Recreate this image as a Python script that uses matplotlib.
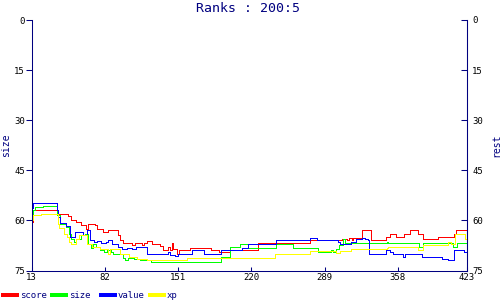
import matplotlib
matplotlib.use("Agg")
import matplotlib.pyplot as plt
from matplotlib.lines import Line2D

# series as step breakpoints (x, value)
score_x = [13, 14, 38, 47, 50, 55, 59, 64, 66, 73, 75, 77, 80, 85, 94, 96, 99, 108, 110, 117, 119, 122,
           126, 134, 137, 141, 143, 145, 146, 150, 152, 162, 182, 190, 200, 226, 275, 301, 305, 310, 312,
           315, 316, 324, 333, 347, 351, 356, 364, 370, 377, 382, 396, 411, 413, 423]
score_y = [60.5, 57, 58, 58.8, 60, 60.5, 61.5, 62.5, 61, 61.5, 62.5, 62.7, 63.5, 63, 64.5, 66, 66.8, 67.5,
           66.8, 67.5, 66.8, 66.2, 67, 67.8, 69, 68, 69, 66.8, 68.5, 70, 69, 68.2, 69, 69.5, 69, 66.8, 66,
           66, 65.7, 66, 65.3, 66, 65.3, 63, 66, 65, 64, 65, 64, 63, 64, 65.5, 65, 64, 63, 63]

size_x = [13, 14, 16, 24, 37, 40, 45, 48, 50, 53, 55, 59, 63, 66, 69, 71, 74, 77, 81, 84, 88, 90, 99, 101,
          104, 109, 115, 125, 191, 200, 209, 217, 243, 259, 283, 295, 297, 300, 303, 306, 308, 348, 349,
          378, 382, 408, 410, 414, 423]
size_y = [59, 57, 56, 55.7, 58.5, 61, 62, 64, 65.5, 66.5, 65.5, 64.5, 64, 67, 68.4, 67, 68, 68.8, 69.5,
          68.8, 69.5, 70, 71.2, 72, 71.2, 71.5, 72, 72.5, 71, 68, 67, 68.2, 67, 68.2, 69.5, 68.8, 69.5,
          68.5, 67.5, 65.5, 66.8, 66.4, 66.8, 68, 66.8, 66.8, 68, 66.8, 66.8]

value_x = [13, 14, 37, 38, 40, 45, 49, 54, 61, 65, 68, 72, 75, 78, 83, 85, 89, 94, 98, 103, 108, 111, 122,
           141, 143, 148, 151, 164, 175, 191, 211, 217, 243, 275, 282, 300, 302, 304, 314, 319, 324, 327,
           330, 331, 347, 351, 354, 363, 365, 381, 400, 405, 411, 420, 423]
value_y = [56.3, 54.7, 57, 59, 60.8, 61.7, 65, 63.5, 64.5, 63, 66, 66.5, 66.2, 66.8, 66.5, 66, 67, 68,
           68.5, 68.3, 68.5, 68, 70, 69.5, 70.5, 70.8, 70, 69, 70, 69, 68.2, 67, 66, 65.2, 66, 66, 66.5,
           67, 66.5, 65.5, 65.2, 65.5, 66, 70, 69, 69.5, 70, 71, 70, 71, 71.5, 72, 69, 69.5, 69.5]

xp_x = [13, 14, 22, 38, 39, 43, 46, 48, 50, 55, 58, 65, 70, 77, 85, 87, 96, 98, 105, 112, 122, 159, 242,
        275, 300, 304, 314, 348, 349, 377, 382, 405, 408, 412, 421, 423]
xp_y = [60, 58.5, 58, 61, 62.4, 64, 65, 66.5, 67, 65.5, 64.5, 67, 68, 68.7, 70, 68.7, 70, 70.2, 71, 71.5,
        72, 71.2, 70, 69.2, 69.8, 69.2, 68.5, 68.2, 68, 68.8, 67.5, 66.5, 67, 64, 65.5, 66]

names = ["score", "size", "value", "xp"]
colors = ["#ff0000", "#00ff00", "#0000ff", "#ffff00"]
xticks = [13, 82, 151, 220, 289, 358, 423]
yticks = [0, 15, 30, 45, 60, 75]

navy = "#000080"
mono = "DejaVu Sans Mono"

fig = plt.figure(figsize=(5, 3), dpi=100)
ax = fig.add_axes([31.7 / 500, 1 - 270.5 / 300, 435 / 500, 250.5 / 300])

series = [(score_x, score_y), (size_x, size_y), (value_x, value_y), (xp_x, xp_y)]
for (xs, ys), c in zip(series, colors):
    ax.plot(xs, ys, drawstyle="steps-post", color=c, lw=0.72, antialiased=False)

ax.set_xlim(13, 423)
ax.set_ylim(75, 0)
ax.set_xticks(xticks)
ax.set_yticks(yticks)
ax.tick_params(axis="x", direction="in", length=3, width=0.75, color=navy, labelcolor="black",
               labelsize=6.5, pad=2)
ax.tick_params(axis="y", direction="out", length=4, width=0.75, color=navy, labelcolor="black",
               labelsize=6.5, pad=1)
for lab in ax.get_xticklabels() + ax.get_yticklabels():
    lab.set_family(mono)
ax.spines["top"].set_visible(False)
for side in ["left", "right", "bottom"]:
    ax.spines[side].set_color(navy)
    ax.spines[side].set_linewidth(0.75)
ax.set_ylabel("size", family=mono, fontsize=7, color=navy, labelpad=2)

ax2 = ax.twinx()
ax2.set_ylim(75, 0)
ax2.set_yticks(yticks)
ax2.tick_params(axis="y", direction="in", length=4, width=0.75, color=navy, labelcolor="black",
                labelsize=6.5, pad=4)
for lab in ax2.get_yticklabels():
    lab.set_family(mono)
for side in ["top", "left", "bottom"]:
    ax2.spines[side].set_visible(False)
ax2.spines["right"].set_color(navy)
ax2.spines["right"].set_linewidth(0.75)
ax2.set_ylabel("rest", family=mono, fontsize=7, color=navy, labelpad=6)

fig.text(0.497, 0.972, "Ranks : 200:5", ha="center", va="center", family=mono,
         fontsize=9.5, color=navy)

# legend row along the bottom
for i, (name, c) in enumerate(zip(names, colors)):
    x0 = (3 + i * 49) / 500
    fig.add_artist(Line2D([x0, x0 + 14 / 500], [1 - 295 / 300] * 2, color=c, lw=1.5,
                          antialiased=False))
    fig.text(x0 + 17 / 500, 1 - 295 / 300, name, ha="left", va="center", family=mono,
             fontsize=6.5, color=navy)

fig.savefig("out.png", dpi=100)
